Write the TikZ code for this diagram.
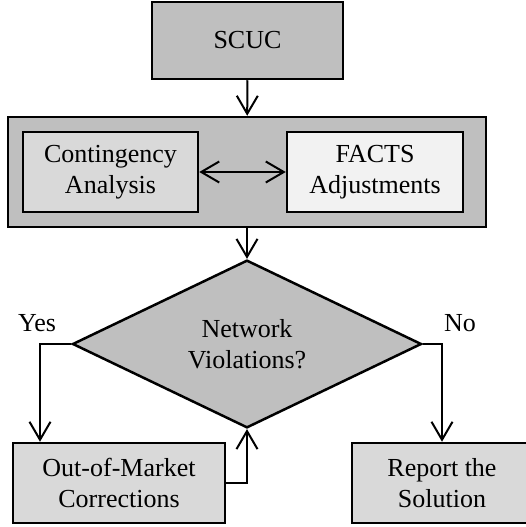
\documentclass[tikz,border=0pt]{standalone}
\usepackage{fontspec}
\setmainfont{Liberation Serif}
\usetikzlibrary{arrows.meta,shapes.geometric}
\definecolor{darkfill}{HTML}{BFBFBF}
\definecolor{midfill}{HTML}{D9D9D9}
\definecolor{lightfill}{HTML}{F2F2F2}
\tikzset{
  block/.style={draw, line width=2.5pt, inner sep=0pt, align=center,
    font=\fontsize{26}{31}\selectfont},
  barb/.tip={Straight Barb[length=18pt,width=21pt,line width=2pt]},
  link/.style={line width=2pt, -barb}
}
\begin{document}
\begin{tikzpicture}[x=1pt, y=-1pt]
  \useasboundingbox (0,0) rectangle (526,527);
  \node[block, fill=darkfill, minimum width=191pt, minimum height=77pt] (scuc) at (247.5,40.5) {SCUC};
  \node[block, fill=darkfill, minimum width=478pt, minimum height=110pt] (outer) at (247,172) {};
  \node[block, fill=midfill, minimum width=175pt, minimum height=80pt] (cont) at (110.5,172) {Contingency\\Analysis};
  \node[block, fill=lightfill, minimum width=176pt, minimum height=80pt] (facts) at (375,172) {FACTS\\Adjustments};
  \node[block, diamond, fill=darkfill, minimum width=349pt, minimum height=125pt] (viol) at (247,344) {Network\\Violations?};
  \node[block, fill=midfill, minimum width=212pt, minimum height=80pt] (oom) at (119,483) {Out-of-Market\\Corrections};
  \node[block, fill=midfill, minimum width=180pt, minimum height=80pt] (report) at (442,483) {Report the\\Solution};
  \coordinate (yesturn) at (40,344);
  \node[font=\fontsize{26}{31}\selectfont] (yes) at (37,323) {Yes};
  \node[font=\fontsize{26}{31}\selectfont] (no) at (460,323) {No};
  % connectors
  \draw[link] (scuc) -- (outer);
  \draw[link, barb-barb] (cont) -- (facts);
  \draw[link] (outer) -- (viol);
  \draw[link] (viol.west) -- (yesturn) -- (yesturn |- oom.north);
  \draw[link] (oom.east) -| (viol.south);
  \draw[link] (viol.east) -| (report.north);
\end{tikzpicture}
\end{document}
